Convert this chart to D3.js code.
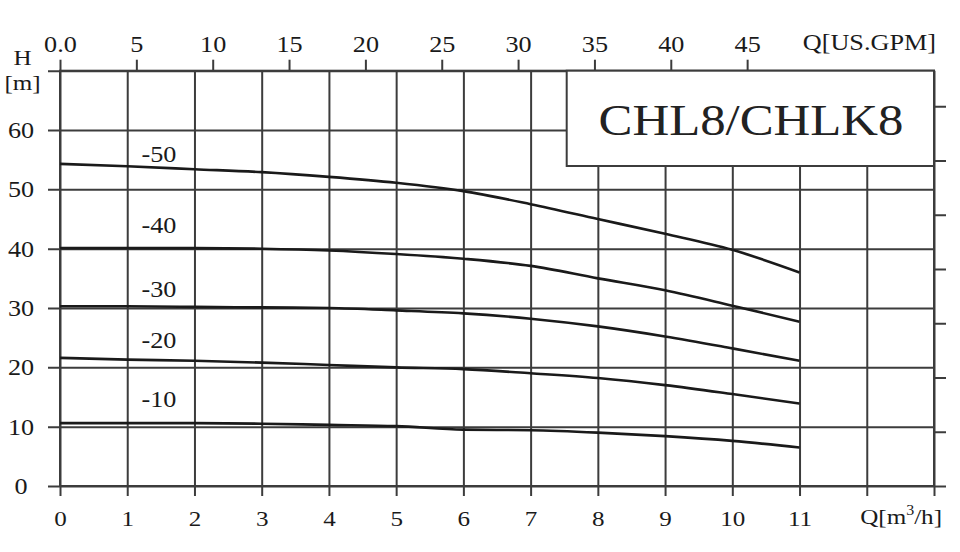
<!DOCTYPE html>
<html>
<head>
<meta charset="utf-8">
<script src="https://cdn.jsdelivr.net/npm/d3@7"></script>
<style>
  html, body { margin: 0; padding: 0; background: #fff; }
  svg { display: block; font-family: "Liberation Serif", "DejaVu Serif", serif; }
</style>
</head>
<body>
<div id="wrapper"></div>
<script>
// flow in m3/h, one point per grid step
const flow = [0, 1, 2, 3, 4, 5, 6, 7, 8, 9, 10, 11];

// head [m] for each impeller stage curve
const head50 = [54.3, 53.9, 53.4, 52.9, 52.1, 51.1, 49.7, 47.5, 45.0, 42.5, 39.8, 36.0];
const head40 = [40.1, 40.1, 40.1, 40.0, 39.7, 39.1, 38.3, 37.1, 35.0, 33.0, 30.4, 27.7];
const head30 = [30.3, 30.3, 30.2, 30.1, 30.0, 29.6, 29.1, 28.2, 26.9, 25.2, 23.2, 21.1];
const head20 = [21.6, 21.3, 21.1, 20.8, 20.4, 20.0, 19.7, 19.0, 18.2, 17.0, 15.5, 13.9];
const head10 = [10.6, 10.6, 10.6, 10.5, 10.3, 10.1, 9.5, 9.4, 9.0, 8.4, 7.6, 6.5];

const curveNames = ["-50", "-40", "-30", "-20", "-10"];

// tick labels
const xTicks = [0, 1, 2, 3, 4, 5, 6, 7, 8, 9, 10, 11, 12, 13];
const xLabels = ["0", "1", "2", "3", "4", "5", "6", "7", "8", "9", "10", "11", "", ""];
const yTicks = [0, 10, 20, 30, 40, 50, 60, 70];
const yLabels = ["0", "10", "20", "30", "40", "50", "60", ""];
const gpmTicks = [0, 5, 10, 15, 20, 25, 30, 35, 40, 45];
const gpmLabels = ["0.0", "5", "10", "15", "20", "25", "30", "35", "40", "45"];
const ftTicks = [0, 30, 60, 90, 120, 150, 180, 210];

const title = "CHL8/CHLK8";

const M3H_TO_GPM = 4.4029;
const M_TO_FT = 3.2808;

var dimension = {
    width: 960,
    height: 552,
    left: 60,
    right: 934,
    top: 70.7,
    bottom: 486
};

const gridColor = "#3c3c3c";
const inkColor = "#1a1a1a";
const stretch = "scale(1.14,1)";

const svg = d3.select("#wrapper").append("svg")
    .attr("width", dimension.width)
    .attr("height", dimension.height);

const xScaler = d3.scaleLinear()
    .domain([0, 13])
    .range([dimension.left, dimension.right]);

const yScaler = d3.scaleLinear()
    .domain([0, 70])
    .range([dimension.bottom, dimension.top]);

const gpmScaler = d3.scaleLinear()
    .domain([0, 13 * M3H_TO_GPM])
    .range([dimension.left, dimension.right]);

const ftScaler = d3.scaleLinear()
    .domain([0, 70 * M_TO_FT])
    .range([dimension.bottom, dimension.top]);

// vertical grid + bottom ticks
const x_axis = d3.axisBottom(xScaler)
    .tickValues(xTicks)
    .tickFormat((d, i) => xLabels[i])
    .tickSize(-(dimension.bottom + 10 - dimension.top))
    .tickPadding(14);

const xg = svg.append("g")
    .attr("transform", `translate(0, ${dimension.bottom + 10})`)
    .call(x_axis);

// horizontal grid + left ticks
const y_axis = d3.axisLeft(yScaler)
    .tickValues(yTicks)
    .tickFormat((d, i) => yLabels[i])
    .tickSize(-(dimension.right - dimension.left + 12))
    .tickPadding(0);

const yg = svg.append("g")
    .attr("transform", `translate(${dimension.left - 12}, 0)`)
    .call(y_axis);

// top axis in US GPM
const gpm_axis = d3.axisTop(gpmScaler)
    .tickValues(gpmTicks)
    .tickFormat((d, i) => gpmLabels[i])
    .tickSize(11)
    .tickPadding(8);

const tg = svg.append("g")
    .attr("transform", `translate(0, ${dimension.top})`)
    .call(gpm_axis);

// right axis in ft, its labels lie outside the picture
const ft_axis = d3.axisRight(ftScaler)
    .tickValues(ftTicks)
    .tickFormat("")
    .tickSize(12);

const rg = svg.append("g")
    .attr("transform", `translate(${dimension.right}, 0)`)
    .call(ft_axis);

[xg, yg, tg, rg].forEach(g => {
    g.select(".domain").remove();
    g.selectAll(".tick line")
        .attr("stroke", gridColor)
        .attr("stroke-width", 2);
    g.selectAll(".tick text")
        .attr("fill", inkColor)
        .attr("font-family", "Liberation Serif")
        .attr("font-size", 22);
});

xg.selectAll(".tick text").attr("transform", stretch);
tg.selectAll(".tick text").attr("font-size", 23).attr("transform", stretch);
// y labels centred at x=21 after stretching
yg.selectAll(".tick text")
    .attr("text-anchor", "middle")
    .attr("font-size", 23)
    .attr("transform", stretch)
    .attr("x", (21 - (dimension.left - 12)) / 1.14);

// frame
svg.append("rect")
    .attr("x", dimension.left)
    .attr("y", dimension.top)
    .attr("width", dimension.right - dimension.left)
    .attr("height", dimension.bottom - dimension.top)
    .attr("fill", "none")
    .attr("stroke", gridColor)
    .attr("stroke-width", 2);

// curves
const heads = [head50, head40, head30, head20, head10];

const lineGenerator = d3.line()
    .x((d, i) => xScaler(flow[i]))
    .y(d => yScaler(d))
    .curve(d3.curveMonotoneX);

svg.append("g")
    .selectAll("path")
    .data(heads)
    .join("path")
    .attr("d", d => lineGenerator(d))
    .attr("fill", "none")
    .attr("stroke", inkColor)
    .attr("stroke-width", 2.6)
    .attr("stroke-linejoin", "round");

// curve names
const nameBaselines = [162, 233, 297, 348, 407];
svg.append("g")
    .selectAll("text")
    .data(curveNames)
    .join("text")
    .attr("transform", (d, i) => `translate(159, ${nameBaselines[i]}) ${stretch}`)
    .attr("text-anchor", "middle")
    .attr("font-size", 23)
    .attr("fill", inkColor)
    .text(d => d);

// title box
svg.append("rect")
    .attr("x", 566.7)
    .attr("y", dimension.top)
    .attr("width", dimension.right - 566.7)
    .attr("height", 95.3)
    .attr("fill", "#fff")
    .attr("stroke", gridColor)
    .attr("stroke-width", 2);

svg.append("text")
    .attr("transform", `translate(751, 135) scale(1.155,1)`)
    .attr("text-anchor", "middle")
    .attr("font-size", 44)
    .attr("fill", "#222")
    .text(title);

// axis titles
svg.append("text")
    .attr("transform", `translate(22.5, 65) ${stretch}`)
    .attr("text-anchor", "middle")
    .attr("font-size", 22)
    .attr("fill", inkColor)
    .text("H");

svg.append("text")
    .attr("transform", `translate(22.5, 90) ${stretch}`)
    .attr("text-anchor", "middle")
    .attr("font-size", 22)
    .attr("fill", inkColor)
    .text("[m]");

svg.append("text")
    .attr("transform", `translate(936, 50) ${stretch}`)
    .attr("text-anchor", "end")
    .attr("font-size", 23)
    .attr("fill", inkColor)
    .text("Q[US.GPM]");

const qLabel = svg.append("text")
    .attr("transform", `translate(942, 524) ${stretch}`)
    .attr("text-anchor", "end")
    .attr("font-size", 22)
    .attr("fill", inkColor);
qLabel.append("tspan").text("Q[m");
qLabel.append("tspan").attr("font-size", 14).attr("dy", -9).text("3");
qLabel.append("tspan").attr("dy", 9).text("/h]");
</script>
</body>
</html>
